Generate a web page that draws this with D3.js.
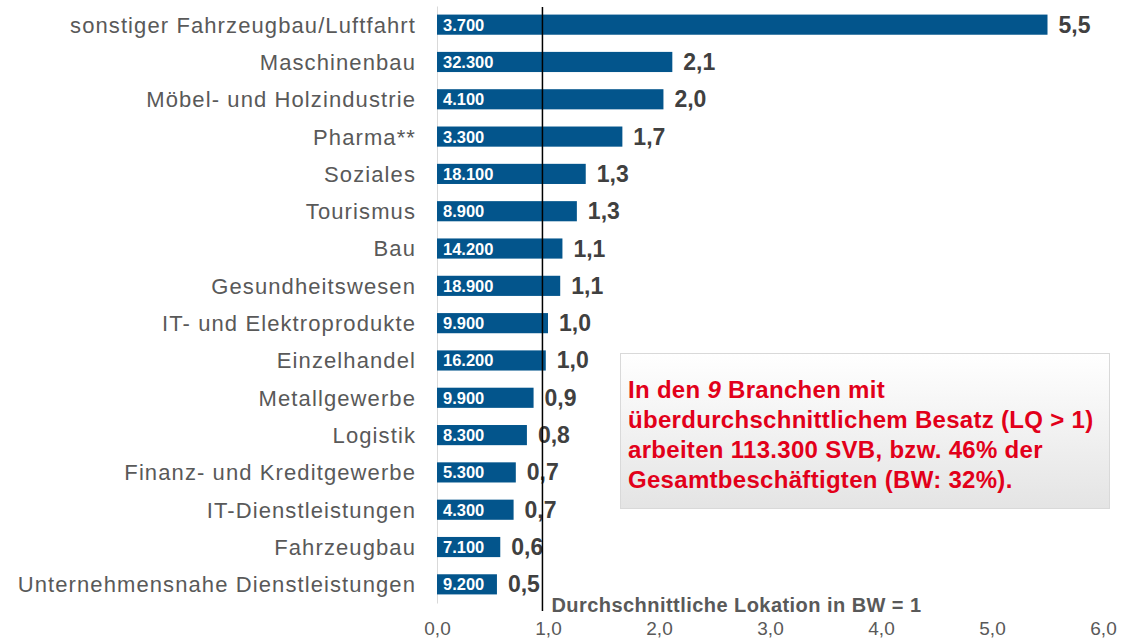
<!DOCTYPE html>
<html>
<head>
  <meta charset="utf-8">
  <title>Lokationsquotient</title>
  <script src="https://cdn.jsdelivr.net/npm/d3@7"></script>
  <style>
    body { margin: 0; background: #fff; font-family: "Liberation Sans", Arial, sans-serif; }
    .cat .tick text { font-size: 22px; fill: #595959; letter-spacing: 1.1px; }
    .cat .domain { stroke: #d9d9d9; }
    .xaxis .tick text { font-size: 19px; fill: #595959; }
    .xaxis .domain { display: none; }
    rect.bar { fill: #03558c; }
    text.emp { fill: #fff; font-size: 16.5px; font-weight: bold; }
    text.val { fill: #404040; font-size: 23px; font-weight: bold; }
    text.ref { fill: #595959; font-size: 20px; font-weight: bold; letter-spacing: 0.45px; }
    .note text { fill: #e2001a; font-size: 24px; font-weight: bold; letter-spacing: 0.3px; }
  </style>
</head>
<body>
<script>

  // data
  var categories = [
    "sonstiger Fahrzeugbau/Luftfahrt", "Maschinenbau", "Möbel- und Holzindustrie", "Pharma**",
    "Soziales", "Tourismus", "Bau", "Gesundheitswesen", "IT- und Elektroprodukte", "Einzelhandel",
    "Metallgewerbe", "Logistik", "Finanz- und Kreditgewerbe", "IT-Dienstleistungen",
    "Fahrzeugbau", "Unternehmensnahe Dienstleistungen"
  ];
  var lq = [5.50, 2.12, 2.04, 1.67, 1.34, 1.26, 1.13, 1.11, 1.00, 0.98, 0.87, 0.81, 0.71, 0.69, 0.57, 0.54];
  var employees = [3700, 32300, 4100, 3300, 18100, 8900, 14200, 18900, 9900, 16200, 9900, 8300, 5300, 4300, 7100, 9200];
  var xTicks = [0, 1, 2, 3, 4, 5, 6];
  var avgLine = 0.95;
  var avgLabel = "Durchschnittliche Lokation in BW = 1";
  var noteLines = [
    ["In den ", "9", " Branchen mit"],
    ["überdurchschnittlichem Besatz (LQ > 1)"],
    ["arbeiten 113.300 SVB, bzw. 46% der"],
    ["Gesamtbeschäftigten (BW: 32%)."]
  ];

  var de = d3.formatLocale({decimal: ",", thousands: ".", grouping: [3], currency: ["", " €"]});
  var fmtLq = de.format(".1f"),
      fmtEmp = de.format(",");

  var W = 1128, H = 641;

  var svg = d3.select("body").append("svg")
      .attr("width", W)
      .attr("height", H);

  var x = d3.scaleLinear()
      .domain([0, 6])
      .range([437, 1103]);

  var y = d3.scaleBand()
      .domain(categories)
      .range([6, 603])
      .paddingInner(0.46)
      .paddingOuter(0.23);

  var rows = categories.map(function (c, i) {
    return {cat: c, lq: lq[i], emp: employees[i]};
  });

  // category axis
  svg.append("g")
      .attr("class", "cat")
      .attr("transform", "translate(" + x(0) + ",0)")
      .call(d3.axisLeft(y).tickSize(0).tickSizeOuter(0).tickPadding(21))
      .selectAll(".tick text")
      .attr("dy", "0.36em");

  // bottom axis
  svg.append("g")
      .attr("class", "xaxis")
      .attr("transform", "translate(0,614)")
      .call(d3.axisBottom(x).tickValues(xTicks).tickSize(0).tickPadding(8).tickFormat(fmtLq));

  var bar = svg.append("g").selectAll("g")
      .data(rows)
      .join("g")
      .attr("transform", function (d) { return "translate(0," + y(d.cat) + ")"; });

  bar.append("rect")
      .attr("class", "bar")
      .attr("x", x(0))
      .attr("width", function (d) { return x(d.lq) - x(0); })
      .attr("height", y.bandwidth());

  bar.append("text")
      .attr("class", "emp")
      .attr("x", x(0) + 6)
      .attr("y", y.bandwidth() / 2 + 6)
      .text(function (d) { return fmtEmp(d.emp); });

  bar.append("text")
      .attr("class", "val")
      .attr("x", function (d) { return x(d.lq) + 11; })
      .attr("y", y.bandwidth() / 2 + 8)
      .text(function (d) { return fmtLq(d.lq); });

  // average line
  svg.append("line")
      .attr("x1", x(avgLine))
      .attr("x2", x(avgLine))
      .attr("y1", 7)
      .attr("y2", 611)
      .attr("stroke", "#000")
      .attr("stroke-width", 1.5);

  svg.append("text")
      .attr("class", "ref")
      .attr("x", x(avgLine) + 9)
      .attr("y", 612)
      .text(avgLabel);

  // note box
  var grad = svg.append("defs").append("linearGradient")
      .attr("id", "boxGrad")
      .attr("x1", 0).attr("y1", 0).attr("x2", 0).attr("y2", 1);
  grad.append("stop").attr("offset", "0%").attr("stop-color", "#ffffff");
  grad.append("stop").attr("offset", "100%").attr("stop-color", "#e4e4e4");

  var note = svg.append("g").attr("class", "note");

  note.append("rect")
      .attr("x", 620.5)
      .attr("y", 353.5)
      .attr("width", 489)
      .attr("height", 155)
      .attr("fill", "url(#boxGrad)")
      .attr("stroke", "#d9d9d9");

  var txt = note.append("text")
      .attr("x", 628)
      .attr("y", 398);

  noteLines.forEach(function (parts, i) {
    parts.forEach(function (p, j) {
      var t = txt.append("tspan").text(p);
      if (j === 0) t.attr("x", 628).attr("y", 398 + i * 30);
      if (i === 0 && j === 1) t.style("font-style", "italic");
    });
  });

</script>
</body>
</html>
